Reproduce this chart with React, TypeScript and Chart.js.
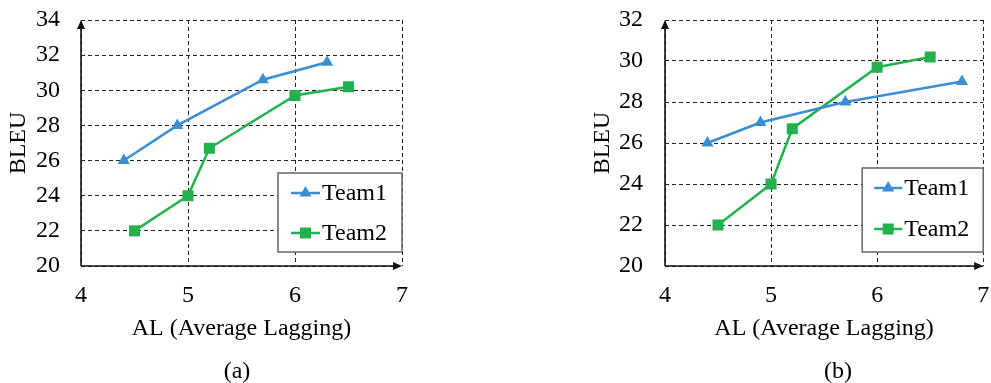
import React, { useEffect, useRef } from "react";
import { Chart, registerables } from "chart.js";

Chart.register(...registerables);

const FONT = '"Liberation Serif", "Times New Roman", serif';
const FS = 24;
const BLUE = "#3B8ED4";
const GREEN = "#22B14C";

const seriesNames = ["Team1", "Team2"];
const xTickValues = [4, 5, 6, 7];
const yTicksA = [20, 22, 24, 26, 28, 30, 32, 34];
const yTicksB = [20, 22, 24, 26, 28, 30, 32];
const xTitle = "AL (Average Lagging)";
const yTitle = "BLEU";
const captions = ["(a)", "(b)"];

// Chart (a)
const team1XA = [4.4, 4.9, 5.7, 6.3];
const team1YA = [26, 28, 30.6, 31.6];
const team2XA = [4.5, 5.0, 5.2, 6.0, 6.5];
const team2YA = [22, 24, 26.7, 29.7, 30.2];

// Chart (b)
const team1XB = [4.4, 4.9, 5.7, 6.8];
const team1YB = [26, 27, 28, 29];
const team2XB = [4.5, 5.0, 5.2, 6.0, 6.5];
const team2YB = [22, 24, 26.7, 29.7, 30.2];

const zip = (xs: number[], ys: number[]) => xs.map((x, i) => ({ x, y: ys[i] }));

const arrowAxesPlugin = {
  id: "arrowAxes",
  beforeDatasetsDraw(chart: any) {
    const { ctx, chartArea } = chart;
    const { left, right, top, bottom } = chartArea;
    ctx.save();
    ctx.strokeStyle = "#111";
    ctx.fillStyle = "#111";
    ctx.lineWidth = 1.6;
    ctx.setLineDash([]);
    ctx.beginPath();
    ctx.moveTo(left, bottom);
    ctx.lineTo(left, top + 6);
    ctx.stroke();
    ctx.beginPath();
    ctx.moveTo(left, bottom);
    ctx.lineTo(right - 6, bottom);
    ctx.stroke();
    ctx.beginPath();
    ctx.moveTo(left, top);
    ctx.lineTo(left - 4, top + 9);
    ctx.lineTo(left + 4, top + 9);
    ctx.closePath();
    ctx.fill();
    ctx.beginPath();
    ctx.moveTo(right, bottom);
    ctx.lineTo(right - 9, bottom - 4);
    ctx.lineTo(right - 9, bottom + 4);
    ctx.closePath();
    ctx.fill();
    ctx.restore();
  },
};

const boxLegendPlugin = {
  id: "boxLegend",
  afterDatasetsDraw(chart: any, _args: any, opts: any) {
    const { ctx, chartArea } = chart;
    const w = opts.width;
    const h = opts.height;
    const bx = chartArea.right - w;
    const by = chartArea.bottom - opts.offsetBottom - h;
    ctx.save();
    ctx.setLineDash([]);
    ctx.fillStyle = "#fff";
    ctx.fillRect(bx, by, w, h);
    ctx.strokeStyle = "#666";
    ctx.lineWidth = 1.5;
    ctx.strokeRect(bx, by, w, h);
    chart.data.datasets.forEach((ds: any, i: number) => {
      const cy = by + opts.rows[i];
      const x0 = bx + opts.lineX[0];
      const x1 = bx + opts.lineX[1];
      ctx.strokeStyle = ds.borderColor;
      ctx.lineWidth = 2.5;
      ctx.beginPath();
      ctx.moveTo(x0, cy);
      ctx.lineTo(x1, cy);
      ctx.stroke();
      const cx = (x0 + x1) / 2;
      ctx.fillStyle = ds.backgroundColor;
      ctx.beginPath();
      if (ds.pointStyle === "triangle") {
        const r = 7;
        ctx.moveTo(cx, cy - r);
        ctx.lineTo(cx - r * 0.866, cy + r / 2);
        ctx.lineTo(cx + r * 0.866, cy + r / 2);
        ctx.closePath();
      } else {
        ctx.rect(cx - 5.5, cy - 5.5, 11, 11);
      }
      ctx.fill();
      ctx.fillStyle = "#000";
      ctx.font = `${FS}px ${FONT}`;
      ctx.textBaseline = "middle";
      ctx.textAlign = "left";
      ctx.fillText(ds.label, bx + opts.textX, cy + 1);
    });
    ctx.restore();
  },
};

type PanelProps = {
  t1x: number[];
  t1y: number[];
  t2x: number[];
  t2y: number[];
  yTicks: number[];
  yAxisWidth: number;
  yTickPad: number;
  yTitlePad: number;
  padRight: number;
  legend: any;
  width: number;
  left: number;
};

function Panel(p: PanelProps) {
  const ref = useRef<HTMLCanvasElement | null>(null);
  useEffect(() => {
    if (!ref.current) return;
    const chart = new Chart(ref.current, {
      type: "line",
      data: {
        datasets: [
          {
            label: seriesNames[0],
            data: zip(p.t1x, p.t1y),
            borderColor: BLUE,
            backgroundColor: BLUE,
            borderWidth: 2.5,
            pointStyle: "triangle",
            pointRadius: 7,
            pointBorderWidth: 0,
            pointBackgroundColor: BLUE,
            tension: 0,
          },
          {
            label: seriesNames[1],
            data: zip(p.t2x, p.t2y),
            borderColor: GREEN,
            backgroundColor: GREEN,
            borderWidth: 2.5,
            pointStyle: "rect",
            pointRadius: 7.8,
            pointBorderWidth: 0,
            pointBackgroundColor: GREEN,
            tension: 0,
          },
        ],
      },
      options: {
        responsive: false,
        animation: false,
        devicePixelRatio: 1,
        layout: { padding: { top: 20, right: p.padRight, bottom: 0, left: 0 } },
        plugins: {
          legend: { display: false },
          tooltip: { enabled: false },
          title: { display: false },
          boxLegend: p.legend,
        } as any,
        scales: {
          x: {
            type: "linear",
            min: xTickValues[0],
            max: xTickValues[xTickValues.length - 1],
            afterBuildTicks: (s: any) => {
              s.ticks = xTickValues.map((v) => ({ value: v }));
            },
            ticks: {
              color: "#000",
              font: { family: FONT, size: FS },
              padding: 15,
              maxRotation: 0,
            },
            grid: { color: "#222", lineWidth: 1, drawTicks: false },
            border: { display: false, dash: [4, 3] },
            title: {
              display: true,
              text: xTitle,
              color: "#000",
              font: { family: FONT, size: FS },
              padding: { top: 0, bottom: 40 },
            },
            afterFit: (s: any) => {
              s.height = 117;
              s.paddingLeft = 0;
              s.paddingRight = 0;
              s.paddingTop = 0;
              s.paddingBottom = 0;
            },
          },
          y: {
            type: "linear",
            min: p.yTicks[0],
            max: p.yTicks[p.yTicks.length - 1],
            afterBuildTicks: (s: any) => {
              s.ticks = p.yTicks.map((v) => ({ value: v }));
            },
            ticks: {
              color: "#000",
              font: { family: FONT, size: FS },
              padding: p.yTickPad,
            },
            grid: { color: "#222", lineWidth: 1, drawTicks: false },
            border: { display: false, dash: [4, 3] },
            title: {
              display: true,
              text: yTitle,
              color: "#000",
              font: { family: FONT, size: FS },
              padding: { top: p.yTitlePad, bottom: 0 },
            },
            afterFit: (s: any) => {
              s.width = p.yAxisWidth;
              s.paddingLeft = 0;
              s.paddingRight = 0;
              s.paddingTop = 0;
              s.paddingBottom = 0;
            },
          },
        },
      } as any,
      plugins: [arrowAxesPlugin, boxLegendPlugin],
    });
    return () => chart.destroy();
  }, []);
  return (
    <canvas
      ref={ref}
      width={p.width}
      height={383}
      style={{ position: "absolute", left: p.left, top: 0, width: p.width, height: 383, display: "block" }}
    />
  );
}

const captionStyle: React.CSSProperties = {
  position: "absolute",
  top: 356,
  width: 60,
  textAlign: "center",
  fontFamily: FONT,
  fontSize: FS,
  lineHeight: "28px",
  color: "#000",
};

export default function App() {
  return (
    <div style={{ position: "absolute", left: 0, top: 0, width: 991, height: 383, background: "#fff", overflow: "hidden" }}>
      <Panel
        t1x={team1XA}
        t1y={team1YA}
        t2x={team2XA}
        t2y={team2YA}
        yTicks={yTicksA}
        yAxisWidth={81}
        yTickPad={21}
        yTitlePad={4}
        padRight={18}
        legend={{ width: 124, height: 79, offsetBottom: 14, rows: [20, 60], lineX: [13, 42], textX: 44 }}
        width={420}
        left={0}
      />
      <Panel
        t1x={team1XB}
        t1y={team1YB}
        t2x={team2XB}
        t2y={team2YB}
        yTicks={yTicksB}
        yAxisWidth={89}
        yTickPad={22}
        yTitlePad={12}
        padRight={5}
        legend={{ width: 121, height: 84, offsetBottom: 14, rows: [20, 61], lineX: [12, 40], textX: 42 }}
        width={415}
        left={576}
      />
      <div style={{ ...captionStyle, left: 237 - 30 }}>{captions[0]}</div>
      <div style={{ ...captionStyle, left: 838 - 30 }}>{captions[1]}</div>
    </div>
  );
}
